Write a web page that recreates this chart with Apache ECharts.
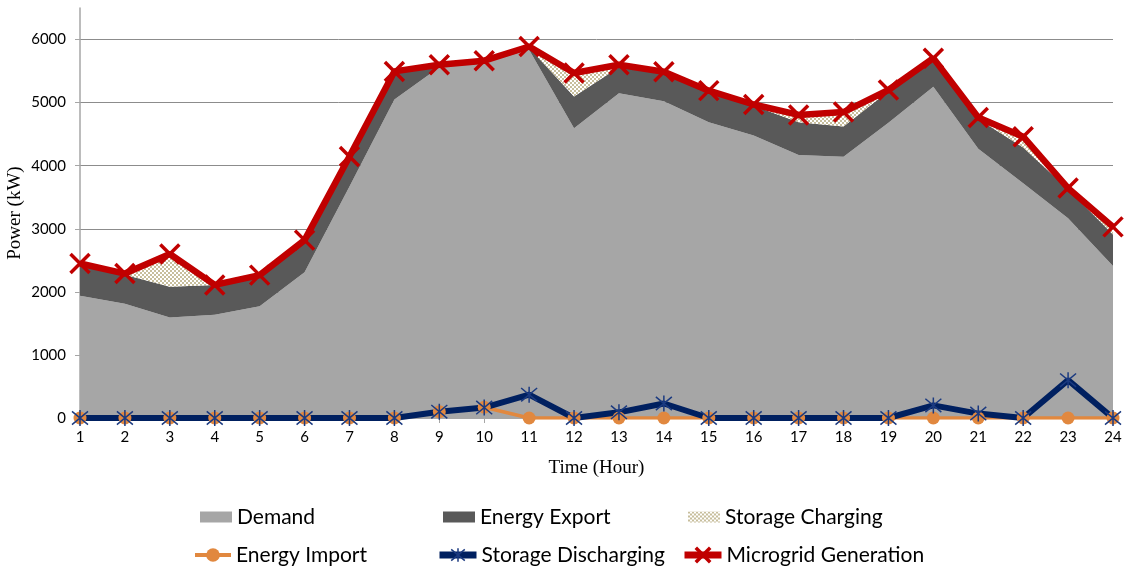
<!DOCTYPE html>
<html>
<head>
<meta charset="utf-8">
<script src="https://cdn.jsdelivr.net/npm/echarts@6/dist/echarts.min.js"></script>
<style>
  html, body { margin: 0; padding: 0; background: #ffffff; }
  #chart { width: 1128px; height: 571px; }
</style>
</head>
<body>
<div id="chart"></div>
<script>
// Hourly microgrid power balance (kW)
const hours = ['1','2','3','4','5','6','7','8','9','10','11','12','13','14','15','16','17','18','19','20','21','22','23','24'];
const demand              = [1940, 1810, 1595, 1635, 1770, 2310, 3670, 5050, 5560, 5620, 5840, 4595, 5150, 5020, 4690, 4480, 4170, 4140, 4680, 5250, 4270, 3720, 3165, 2410];
const energyExport        = [ 460,  460,  485,  475,  480,  490,  460,  420,   35,   35,   30,  500,  410,  450,  480,  470,  520,  480,  500,  400,  470,  570,  460,  500];
const storageCharging     = [   0,    0,  520,    0,    0,    0,    0,    0,    0,    0,    0,  375,    0,    0,    0,    0,  115,  230,    0,    0,    0,  170,    0,   80];
const energyImport        = [   0,    0,    0,    0,    0,    0,    0,    0,  100,  170,    0,    0,    0,    0,    0,    0,    0,    0,    0,    0,    0,    0,    0,    0];
const storageDischarging  = [   0,    0,    0,    0,    0,    0,    0,    0,  100,  165,  370,    0,   90,  230,    0,    0,    0,    0,    0,  200,   70,    0,  600,    0];
const microgridGeneration = [2450, 2290, 2600, 2110, 2265, 2820, 4145, 5495, 5600, 5665, 5890, 5470, 5600, 5490, 5190, 4970, 4805, 4850, 5200, 5705, 4765, 4460, 3645, 3030];
const powerTicks = [0, 1000, 2000, 3000, 4000, 5000, 6000];

// small beige/white checkerboard used for the storage-charging band
function checkerPattern() {
  const c = document.createElement('canvas');
  c.width = 4; c.height = 4;
  const g = c.getContext('2d');
  g.fillStyle = '#ffffff';
  g.fillRect(0, 0, 4, 4);
  g.fillStyle = '#C7BE9C';
  g.fillRect(0, 0, 2, 2);
  g.fillRect(2, 2, 2, 2);
  return { image: c, repeat: 'repeat' };
}
const checker = checkerPattern();

const COL_DEMAND = '#A6A6A6';
const COL_EXPORT = '#595959';
const COL_IMPORT = '#E1883F';
const COL_DISCH = '#002060';
const COL_STAR = '#1B3A80';
const COL_GEN = '#C00000';

const X_MARK = 'path://M0,0L20,20M20,0L0,20';
const STAR_MARK = 'path://M0,0L20,20M20,0L0,20M10,-2L10,22';

const legendFont = { fontFamily: 'Lato', fontSize: 21, color: '#000000', lineHeight: 24 };

function legendAt(name, left, top, extra) {
  return Object.assign({
    data: [name],
    left: left,
    top: top,
    padding: 0,
    itemGap: 0,
    selectedMode: false,
    textStyle: legendFont
  }, extra || {});
}

function areaSeries(name, data, fill) {
  return {
    name: name,
    type: 'line',
    stack: 'supply',
    data: data,
    symbol: 'none',
    lineStyle: { width: 0 },
    itemStyle: { color: fill },
    areaStyle: { color: fill, opacity: 1 },
    emphasis: { disabled: true },
    silent: true
  };
}

const chart = echarts.init(document.getElementById('chart'), null, { renderer: 'canvas' });

chart.setOption({
  animation: false,
  backgroundColor: '#ffffff',
  grid: { left: 80, right: 15, top: 8, bottom: 153, containLabel: false, outerBoundsMode: 'none' },
  legend: [
    legendAt('Demand', 200, 505, { itemWidth: 32, itemHeight: 11, icon: 'rect' }),
    legendAt('Energy Export', 443, 505, { itemWidth: 32, itemHeight: 11, icon: 'rect' }),
    legendAt('Storage Charging', 688, 505, { itemWidth: 32, itemHeight: 11, icon: 'rect' }),
    legendAt('Energy Import', 193, 543, {
      itemWidth: 36, itemHeight: 17,
      lineStyle: { width: 4 },
      itemStyle: { borderWidth: 0 }
    }),
    legendAt('Storage Discharging', 436, 543, {
      itemWidth: 37, itemHeight: 17,
      lineStyle: { width: 7 },
      itemStyle: { borderWidth: 1.5 }
    }),
    legendAt('Microgrid Generation', 681, 543, {
      itemWidth: 37, itemHeight: 18,
      lineStyle: { width: 7 },
      itemStyle: { borderWidth: 3.5 }
    })
  ],
  xAxis: {
    type: 'category',
    data: hours,
    boundaryGap: false,
    name: 'Time (Hour)',
    nameLocation: 'middle',
    nameGap: 41,
    nameTextStyle: { fontFamily: 'Liberation Serif', fontSize: 19, color: '#000000' },
    axisLine: { show: true, lineStyle: { color: '#A6A6A6', width: 1 } },
    axisTick: { show: true, alignWithLabel: true, length: 5, lineStyle: { color: '#A6A6A6' } },
    axisLabel: { fontFamily: 'Lato', fontSize: 15, color: '#000000', margin: 12 },
    splitLine: { show: false }
  },
  yAxis: {
    type: 'value',
    min: 0,
    max: 6500,
    interval: 1000,
    name: 'Power (kW)',
    nameLocation: 'middle',
    nameRotate: 90,
    nameGap: 55,
    nameMoveOverlap: false,
    nameTextStyle: { fontFamily: 'Liberation Serif', fontSize: 19, color: '#000000' },
    axisLine: { show: true, lineStyle: { color: '#A6A6A6', width: 1.5 } },
    axisTick: { show: true, length: 5, customValues: powerTicks, lineStyle: { color: '#A6A6A6' } },
    axisLabel: {
      fontFamily: 'Lato', fontSize: 15, color: '#000000', margin: 14,
      customValues: powerTicks,
      formatter: function (v) { return String(v); }
    },
    splitLine: {
      show: true,
      lineStyle: {
        color: ['#8C8C8C', '#8C8C8C', '#8C8C8C', '#8C8C8C', '#8C8C8C', '#8C8C8C', '#8C8C8C', 'rgba(0,0,0,0)'],
        width: 1
      }
    }
  },
  series: [
    areaSeries('Demand', demand, COL_DEMAND),
    areaSeries('Energy Export', energyExport, COL_EXPORT),
    areaSeries('Storage Charging', storageCharging, checker),
    {
      name: 'Energy Import',
      type: 'line',
      data: energyImport,
      symbol: 'circle',
      symbolSize: 13,
      showAllSymbol: true,
      lineStyle: { color: COL_IMPORT, width: 3.5 },
      itemStyle: { color: COL_IMPORT, borderWidth: 0 },
      emphasis: { disabled: true }
    },
    {
      name: 'Storage Discharging',
      type: 'line',
      data: storageDischarging,
      symbol: STAR_MARK,
      symbolSize: 16,
      showAllSymbol: true,
      lineStyle: { color: COL_DISCH, width: 6 },
      itemStyle: { color: 'rgba(0,0,0,0)', borderColor: COL_STAR, borderWidth: 1.5 },
      emphasis: { disabled: true }
    },
    {
      name: 'Microgrid Generation',
      type: 'line',
      data: microgridGeneration,
      symbol: X_MARK,
      symbolSize: 19,
      showAllSymbol: true,
      lineStyle: { color: COL_GEN, width: 6.5 },
      itemStyle: { color: 'rgba(0,0,0,0)', borderColor: COL_GEN, borderWidth: 3.5 },
      emphasis: { disabled: true }
    }
  ]
});
</script>
</body>
</html>
